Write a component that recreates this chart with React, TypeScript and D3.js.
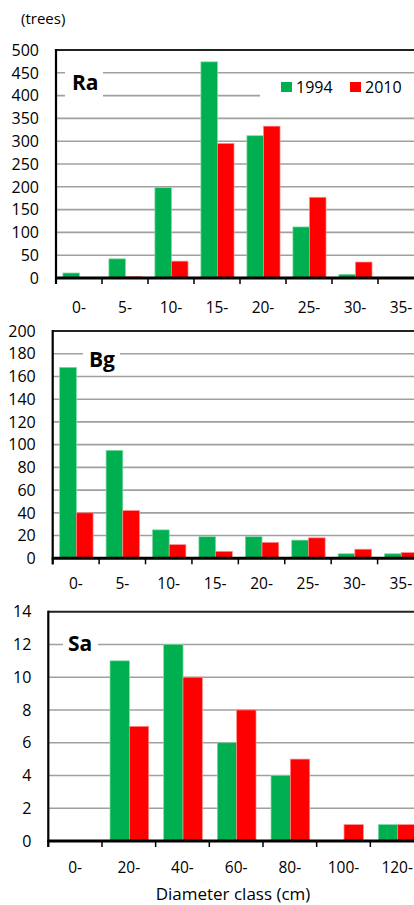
import React from "react";
import * as d3 from "d3";

// Diameter classes (cm)
const fineClasses = ["0-", "5-", "10-", "15-", "20-", "25-", "30-", "35-"];
const coarseClasses = ["0-", "20-", "40-", "60-", "80-", "100-", "120-"];

// Tree counts per diameter class
const ra1994 = [11, 42, 198, 474, 312, 112, 8, 0];
const ra2010 = [0, 3, 37, 295, 333, 177, 35, 0];
const bg1994 = [168, 95, 25, 19, 19, 16, 4, 4];
const bg2010 = [40, 42, 12, 6, 14, 18, 8, 5];
const sa1994 = [0, 11, 12, 6, 4, 0, 1];
const sa2010 = [0, 7, 10, 8, 5, 1, 1];

// Axis tick values
const raTicks = [0, 50, 100, 150, 200, 250, 300, 350, 400, 450, 500];
const bgTicks = [0, 20, 40, 60, 80, 100, 120, 140, 160, 180, 200];
const saTicks = [0, 2, 4, 6, 8, 10, 12, 14];

const years = ["1994", "2010"];
const colors = ["#00B050", "#FF0000"];
const edgeColors = ["#7ed9a4", "#ff8a8a"];

const FONT = "'Open Sans', 'Noto Sans', sans-serif";
const RIGHT = 424;

type PanelProps = {
  classes: string[];
  series: number[][];
  ticks: number[];
  left: number;
  top: number;
  bottom: number;
  name: string;
  nameBox: { x: number; y: number; w: number; h: number; tx: number; ty: number };
  labelOffset: number;
  legend?: boolean;
};

function Panel({ classes, series, ticks, left, top, bottom, name, nameBox, labelOffset, legend }: PanelProps) {
  const x = d3.scaleBand<string>().domain(classes).range([left, RIGHT]).padding(0);
  const y = d3
    .scaleLinear()
    .domain([0, ticks[ticks.length - 1]])
    .range([bottom, top]);
  const bw = x.bandwidth();
  const barW = bw * 0.36;
  const pad = bw * 0.15;

  return (
    <g>
      {/* gridlines */}
      {ticks.slice(1, -1).map((t) => (
        <line key={"g" + t} x1={left} x2={RIGHT} y1={y(t)} y2={y(t)} stroke="#a0a0a0" strokeWidth={1.6} />
      ))}
      {/* bars */}
      {series.map((vals, si) =>
        vals.map((v, i) =>
          v > 0 ? (
            <rect
              key={`b${si}-${i}`}
              x={(x(classes[i]) as number) + pad + si * barW}
              y={y(v)}
              width={barW}
              height={bottom - y(v)}
              fill={colors[si]}
              stroke={edgeColors[si]}
              strokeWidth={0.7}
            />
          ) : null
        )
      )}
      {/* panel name */}
      <rect x={nameBox.x} y={nameBox.y} width={nameBox.w} height={nameBox.h} fill="#fff" />
      <text x={nameBox.tx} y={nameBox.ty} fontFamily={FONT} fontWeight={700} fontSize={21} fill="#000">
        {name}
      </text>
      {legend && (
        <g>
          <rect x={260} y={75} width={RIGHT - 260} height={25} fill="#fff" />
          {years.map((yr, i) => (
            <g key={yr} transform={`translate(${281 + i * 69},0)`}>
              <rect x={0} y={82} width={11} height={10} fill={colors[i]} />
              <text x={15} y={92.5} fontFamily={FONT} fontSize={16} fill="#000">
                {yr}
              </text>
            </g>
          ))}
        </g>
      )}
      {/* frame */}
      <line x1={left} x2={RIGHT} y1={top} y2={top} stroke="#222" strokeWidth={2} />
      <line x1={left} x2={left} y1={top - 1} y2={bottom + 6} stroke="#000" strokeWidth={2.2} />
      <line x1={left - 1} x2={RIGHT} y1={bottom} y2={bottom} stroke="#000" strokeWidth={3} />
      {classes.map((c) => (
        <line
          key={"t" + c}
          x1={x(c) as number}
          x2={x(c) as number}
          y1={bottom}
          y2={bottom + 6}
          stroke="#000"
          strokeWidth={1.5}
        />
      ))}
      {/* y tick labels */}
      {ticks.map((t) => (
        <text
          key={"yl" + t}
          x={left - 17}
          y={y(t)}
          dy="0.36em"
          textAnchor="end"
          fontFamily={FONT}
          fontSize={16}
          fill="#000"
        >
          {t}
        </text>
      ))}
      {/* x tick labels */}
      {classes.map((c) => (
        <text
          key={"xl" + c}
          x={(x(c) as number) + bw / 2}
          y={bottom + labelOffset}
          textAnchor="middle"
          fontFamily={FONT}
          fontSize={15.5}
          fill="#000"
        >
          {c}
        </text>
      ))}
    </g>
  );
}

export default function App() {
  return (
    <svg
      width={414}
      height={905}
      style={{ position: "absolute", left: 0, top: 0, display: "block", background: "#fff" }}
    >
      <rect x={0} y={0} width={414} height={905} fill="#fff" />
      <text x={21} y={24} fontFamily={FONT} fontSize={15} fill="#000">
        (trees)
      </text>
      <Panel
        classes={fineClasses}
        series={[ra1994, ra2010]}
        ticks={raTicks}
        left={56}
        top={50}
        bottom={278}
        name="Ra"
        nameBox={{ x: 65, y: 68, w: 38, h: 31, tx: 72, ty: 89.5 }}
        labelOffset={34.5}
        legend
      />
      <Panel
        classes={fineClasses}
        series={[bg1994, bg2010]}
        ticks={bgTicks}
        left={52.7}
        top={331}
        bottom={558.3}
        name="Bg"
        nameBox={{ x: 83, y: 345, w: 37, h: 16, tx: 89, ty: 367 }}
        labelOffset={30.5}
      />
      <Panel
        classes={coarseClasses}
        series={[sa1994, sa2010]}
        ticks={saTicks}
        left={48.3}
        top={611.7}
        bottom={841}
        name="Sa"
        nameBox={{ x: 63, y: 633, w: 35, h: 20, tx: 68, ty: 650.5 }}
        labelOffset={32}
      />
      <text x={233} y={900} textAnchor="middle" fontFamily={FONT} fontSize={17} fill="#000">
        Diameter class (cm)
      </text>
    </svg>
  );
}
